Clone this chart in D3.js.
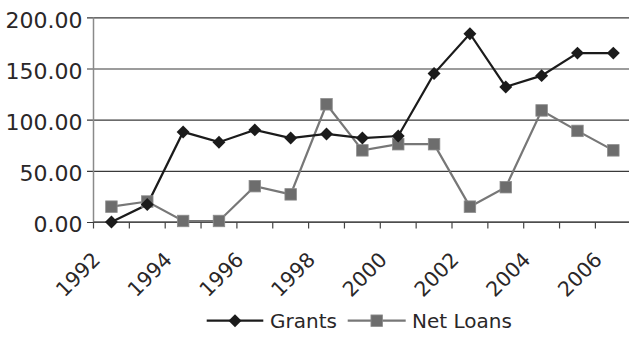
<!DOCTYPE html>
<html>
<head>
<meta charset="utf-8">
<script src="https://cdn.jsdelivr.net/npm/d3@7"></script>
<style>
  html, body { margin: 0; padding: 0; background: #fff; }
  svg { display: block; }
  text { font-family: "DejaVu Sans", sans-serif; fill: #2a2728; }
</style>
</head>
<body>
<svg id="chart" width="629" height="337"></svg>
<script>
// Annual flows, 1992–2006
const years = [1992, 1993, 1994, 1995, 1996, 1997, 1998, 1999, 2000, 2001, 2002, 2003, 2004, 2005, 2006];
const grants = [0, 17, 88, 78, 90, 82, 86, 82, 84, 145, 184, 132, 143, 165, 165];
const netLoans = [15, 20, 1, 1, 35, 27, 115, 70, 76, 76, 15, 34, 109, 89, 70];
const yTicks = [0, 50, 100, 150, 200];
const xLabelYears = [1992, 1994, 1996, 1998, 2000, 2002, 2004, 2006];
const seriesNames = ["Grants", "Net Loans"];

const svg = d3.select("#chart");
const plotLeft = 93.5, plotTop = 17.3, plotBottom = 222, band = 35.85;
const plotRight = plotLeft + band * years.length;

const x = d3.scaleBand().domain(years).range([plotLeft, plotRight]).paddingInner(0).paddingOuter(0);
const y = d3.scaleLinear().domain([0, 200]).range([plotBottom, plotTop]);
const cx = d => x(d) + x.bandwidth() / 2;

// Horizontal gridlines with short ticks left of the axis
const yAxis = svg.append("g")
  .attr("transform", `translate(${plotLeft},0)`)
  .call(d3.axisLeft(y).tickValues(yTicks).tickSize(-(629 - plotLeft)).tickFormat(d3.format(".2f")));
yAxis.select(".domain").remove();
yAxis.selectAll(".tick line")
  .attr("x1", -6.5)
  .attr("stroke", "#3a3a3a")
  .attr("stroke-width", 1.2);
yAxis.selectAll(".tick text")
  .attr("x", -11)
  .attr("dy", "0.45em")
  .style("font-size", "22px");

// Vertical axis line
svg.append("line")
  .attr("x1", plotLeft).attr("x2", plotLeft)
  .attr("y1", plotTop).attr("y2", plotBottom)
  .attr("stroke", "#8a8a8a").attr("stroke-width", 1.5);

// Category axis: tick marks at band boundaries
const xAxis = svg.append("g")
  .attr("transform", `translate(0,${plotBottom})`);
xAxis.append("line")
  .attr("x1", plotLeft).attr("x2", 629)
  .attr("stroke", "#555").attr("stroke-width", 1.3);
xAxis.selectAll("line.tick")
  .data(years)
  .join("line")
  .attr("class", "tick")
  .attr("x1", d => x(d)).attr("x2", d => x(d))
  .attr("y1", 0).attr("y2", 6.5)
  .attr("stroke", "#444").attr("stroke-width", 1.2);
xAxis.selectAll("text.year")
  .data(xLabelYears)
  .join("text")
  .attr("class", "year")
  .attr("text-anchor", "end")
  .attr("transform", d => `translate(${cx(d) - 10},${39}) rotate(-45)`)
  .style("font-size", "20.5px")
  .text(d => d);

// Series lines and markers
const line = d3.line().x((d, i) => cx(years[i])).y(d => y(d));

const loanColor = "#6d6d6d";
const grantColor = "#1b1b1b";

svg.append("path")
  .datum(netLoans)
  .attr("d", line)
  .attr("fill", "none")
  .attr("stroke", "#777")
  .attr("stroke-width", 2.2);

svg.append("path")
  .datum(grants)
  .attr("d", line)
  .attr("fill", "none")
  .attr("stroke", grantColor)
  .attr("stroke-width", 2.2);

const sq = 11.5;
svg.selectAll("rect.loan")
  .data(netLoans)
  .join("rect")
  .attr("class", "loan")
  .attr("x", (d, i) => cx(years[i]) - sq / 2)
  .attr("y", d => y(d) - sq / 2)
  .attr("width", sq).attr("height", sq)
  .attr("fill", loanColor)
  .attr("stroke", "#8c8c8c")
  .attr("stroke-width", 0.8);

const diamond = d3.symbol().type(d3.symbolSquare).size(84);
svg.selectAll("path.grant")
  .data(grants)
  .join("path")
  .attr("class", "grant")
  .attr("d", diamond)
  .attr("transform", (d, i) => `translate(${cx(years[i])},${y(d)}) rotate(45)`)
  .attr("fill", grantColor);

// Legend
const legY = 320.7;
const legend = svg.append("g");
const legItems = [
  { name: seriesNames[0], x0: 206.7, x1: 263.3, tx: 270, color: grantColor, marker: "diamond" },
  { name: seriesNames[1], x0: 347.7, x1: 405.7, tx: 412, color: "#777", marker: "square" }
];
legItems.forEach(it => {
  legend.append("line")
    .attr("x1", it.x0).attr("x2", it.x1)
    .attr("y1", legY).attr("y2", legY)
    .attr("stroke", it.color).attr("stroke-width", 2.2);
  const mx = (it.x0 + it.x1) / 2;
  if (it.marker === "diamond") {
    legend.append("path")
      .attr("d", diamond)
      .attr("transform", `translate(${mx},${legY}) rotate(45)`)
      .attr("fill", grantColor);
  } else {
    legend.append("rect")
      .attr("x", mx - sq / 2).attr("y", legY - sq / 2)
      .attr("width", sq).attr("height", sq)
      .attr("fill", loanColor)
      .attr("stroke", "#8c8c8c").attr("stroke-width", 0.8);
  }
  legend.append("text")
    .attr("x", it.tx)
    .attr("y", legY)
    .attr("dy", "0.36em")
    .style("font-size", "20px")
    .text(it.name);
});
</script>
</body>
</html>
